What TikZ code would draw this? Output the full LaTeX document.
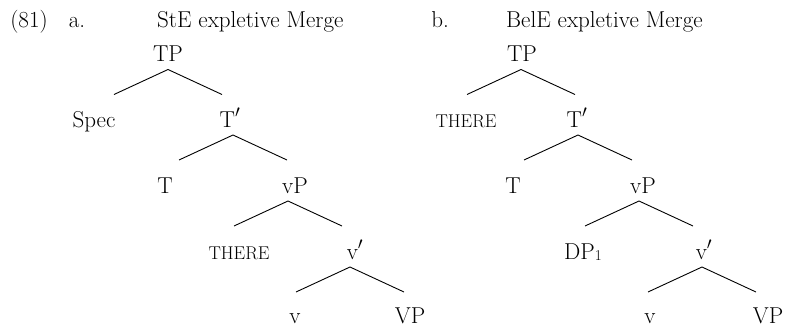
\documentclass[tikz,border=0pt]{standalone}
\begin{document}
\begin{tikzpicture}[x=1pt,y=-1pt,
  lbl/.style={anchor=base, inner sep=0pt, font=\fontsize{23}{27}\selectfont},
  scl/.style={anchor=base, inner sep=0pt, font=\fontsize{18.5}{22}\selectfont},
  br/.style={line width=0.9pt}]
\useasboundingbox (0,0) rectangle (787,327);
% headings
\node[lbl] (ex) at (29,27) {(81)};
\node[lbl] (la) at (77,27) {a.};
\node[lbl,anchor=base west] (ta) at (157,27) {StE expletive Merge};
\node[lbl] (lb) at (440,27) {b.};
\node[lbl,anchor=base west] (tb) at (506,27) {BelE expletive Merge};
% tree a
\node[lbl] (aTP) at (168,61.5) {TP};
\node[lbl] (aSpec) at (94,127) {Spec};
\node[lbl] (aTb) at (230,127) {T$'$};
\node[lbl] (aT) at (165,193) {T};
\node[lbl] (avP) at (295,193) {vP};
\node[scl] (aTHERE) at (239,259) {THERE};
\node[lbl] (avb) at (355,259) {v$'$};
\node[lbl] (av) at (295,323.5) {v};
\node[lbl] (aVP) at (410,323.5) {VP};
% tree b
\node[lbl] (bTP) at (522,61.5) {TP};
\node[scl] (bTHERE) at (466,127) {THERE};
\node[lbl] (bTb) at (577,127) {T$'$};
\node[lbl] (bT) at (513,193) {T};
\node[lbl] (bvP) at (643,193) {vP};
\node[lbl] (bDP) at (583,259) {DP\raisebox{-1pt}{\fontsize{15}{17}\selectfont 1}};
\node[lbl] (bvb) at (704,259) {v$'$};
\node[lbl] (bv) at (650,323.5) {v};
\node[lbl] (bVP) at (768,323.5) {VP};
% branches
\path ([yshift=-8pt]aTP.base) coordinate (aTPd);
\path ([xshift=3pt,yshift=-8pt]aTb.base) coordinate (aTbd);
\path ([xshift=-7pt,yshift=-8pt]avP.base) coordinate (avPd);
\path ([xshift=-5pt,yshift=-8pt]avb.base) coordinate (avbd);
\path ([xshift=-1pt,yshift=-8pt]bTP.base) coordinate (bTPd);
\path ([xshift=1pt,yshift=-8pt]bTb.base) coordinate (bTbd);
\path ([xshift=-4pt,yshift=-8pt]bvP.base) coordinate (bvPd);
\path ([xshift=-2pt,yshift=-8pt]bvb.base) coordinate (bvbd);
\foreach \p in {aTPd,aTbd,avPd,avbd,bTPd,bTbd,bvPd,bvbd}{
  \draw[br] (\p) ++(-54,25) -- (\p) -- ++(54,25);
}
\end{tikzpicture}
\end{document}
